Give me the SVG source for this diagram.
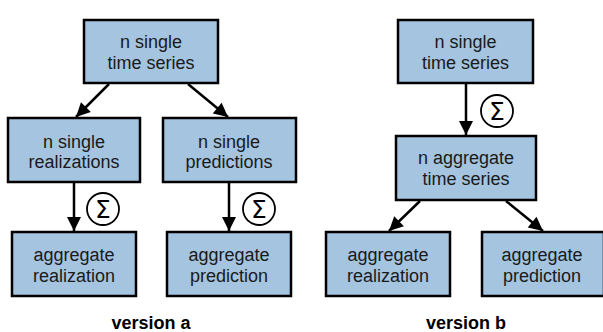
<svg xmlns="http://www.w3.org/2000/svg" width="603" height="332" viewBox="0 0 603 332">
<style>
.box{fill:#a4c4e0;stroke:#000;stroke-width:2.5}
.t{font-family:"Liberation Sans",Arial,sans-serif;font-size:18px;fill:#1a1a1a;text-anchor:middle}
.lbl{font-family:"Liberation Sans",Arial,sans-serif;font-size:18px;font-weight:bold;fill:#000;text-anchor:middle}
.c{fill:#fff;stroke:#000;stroke-width:1.8}
.sig{font-family:"DejaVu Sans","Liberation Sans",sans-serif;font-size:25px;fill:#000;text-anchor:middle}
.e{stroke:#000;stroke-width:2.5;fill:none;marker-end:url(#ah)}
</style>
<defs>
<marker id="ah" markerUnits="userSpaceOnUse" markerWidth="16" markerHeight="16" viewBox="0 0 16 16" refX="15" refY="8" orient="auto">
<path d="M1,1 L15,8 L1,15 Z" fill="#000"/>
</marker>
</defs>
<rect width="603" height="332" fill="#fff"/>
<g id="edges">
<line class="e" x1="109" y1="84" x2="76" y2="117"/>
<line class="e" x1="188" y1="84" x2="228" y2="117"/>
<line class="e" x1="74" y1="183" x2="74" y2="231"/>
<line class="e" x1="229" y1="183" x2="229" y2="231"/>
<line class="e" x1="466" y1="84" x2="466" y2="135"/>
<line class="e" x1="420" y1="201" x2="389" y2="231"/>
<line class="e" x1="506" y1="201" x2="543" y2="231"/>
</g>
<g id="sum1"><circle class="c" cx="103" cy="209" r="16"/><text class="sig" x="103" y="218">Σ</text></g>
<g id="sum2"><circle class="c" cx="259" cy="209" r="16"/><text class="sig" x="259" y="218">Σ</text></g>
<g id="sum3"><circle class="c" cx="497" cy="111" r="16"/><text class="sig" x="497" y="120">Σ</text></g>
<g id="a-top"><rect class="box" x="84" y="20" width="134" height="63"/><text class="t" x="151" y="48">n single</text><text class="t" x="151" y="69">time series</text></g>
<g id="a-real"><rect class="box" x="8" y="118" width="132" height="64"/><text class="t" x="74" y="148">n single</text><text class="t" x="74" y="168">realizations</text></g>
<g id="a-pred"><rect class="box" x="163" y="118" width="133" height="64"/><text class="t" x="229" y="148">n single</text><text class="t" x="229" y="168">predictions</text></g>
<g id="a-aggreal"><rect class="box" x="12" y="232" width="124" height="64"/><text class="t" x="74" y="261">aggregate</text><text class="t" x="74" y="282">realization</text></g>
<g id="a-aggpred"><rect class="box" x="167" y="232" width="124" height="64"/><text class="t" x="229" y="261">aggregate</text><text class="t" x="229" y="282">prediction</text></g>
<g id="b-top"><rect class="box" x="398" y="20" width="135" height="63"/><text class="t" x="465.5" y="48">n single</text><text class="t" x="465.5" y="69">time series</text></g>
<g id="b-mid"><rect class="box" x="396" y="136" width="140" height="64"/><text class="t" x="466" y="164">n aggregate</text><text class="t" x="466" y="185">time series</text></g>
<g id="b-aggreal"><rect class="box" x="326" y="232" width="124" height="64"/><text class="t" x="388" y="261">aggregate</text><text class="t" x="388" y="282">realization</text></g>
<g id="b-aggpred"><rect class="box" x="482" y="232" width="122" height="64"/><text class="t" x="542" y="261">aggregate</text><text class="t" x="542" y="282">prediction</text></g>
<g id="labels"><text class="lbl" x="151" y="329">version a</text><text class="lbl" x="466" y="329">version b</text></g>
</svg>
